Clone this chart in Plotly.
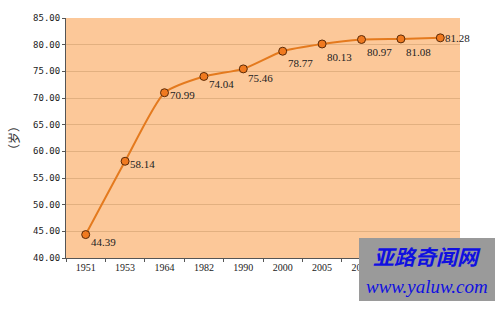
import plotly.graph_objects as go

years = ["1951", "1953", "1964", "1982", "1990", "2000", "2005", "2006", "2007", "2008"]
life = [44.39, 58.14, 70.99, 74.04, 75.46, 78.77, 80.13, 80.97, 81.08, 81.28]
y_ticks = [40, 45, 50, 55, 60, 65, 70, 75, 80, 85]

W, H = 500, 309
L, R, T, B = 66, 40, 18, 51
PW, PH = W - L - R, H - T - B

label_dy = [-7, -3, -2, -8, -9, -12, -13, -13, -13, 0]

fig = go.Figure()
fig.add_trace(go.Scatter(
    x=years, y=life, mode="lines+markers",
    line=dict(color="#E47A1E", width=2, shape="spline", smoothing=0.6),
    marker=dict(color="#F07A20", size=8, line=dict(color="#5A2A08", width=1)),
    hoverinfo="skip", showlegend=False,
))

for i, yv in enumerate(life):
    fig.add_annotation(x=i, y=yv, xref="x", yref="y", text=f"{yv:.2f}", showarrow=False,
                       xanchor="left", yanchor="middle", xshift=3, yshift=label_dy[i],
                       font=dict(family="Liberation Serif", size=11, color="#222222"))

# watermark
fig.add_shape(type="rect", xref="paper", yref="paper",
              x0=(359 - L) / PW, x1=(495 - L) / PW,
              y0=(258 - 301) / PH, y1=(258 - 238) / PH,
              fillcolor="#9A9A9A", line=dict(width=0), layer="above")
fig.add_annotation(xref="paper", yref="paper", x=(427 - L) / PW, y=(258 - 256) / PH,
                   xanchor="center", yanchor="middle",
                   text="<b><i>亚路奇闻网</i></b>", showarrow=False,
                   font=dict(family="Noto Sans CJK SC", size=21, color="#1010E0"))
fig.add_annotation(xref="paper", yref="paper", x=(427 - L) / PW, y=(258 - 286) / PH,
                   xanchor="center", yanchor="middle",
                   text="<i>www.yaluw.com</i>", showarrow=False,
                   font=dict(family="Liberation Serif", size=19, color="#1010E0"))

fig.update_layout(
    width=W, height=H,
    margin=dict(l=L, r=R, t=T, b=B, autoexpand=False),
    paper_bgcolor="white", plot_bgcolor="#FCC899",
    xaxis=dict(type="category", showgrid=False, showline=True, linecolor="#555555", linewidth=1,
               ticks="outside", ticklen=3, tickcolor="#555555", tickson="boundaries",
               tickfont=dict(family="Liberation Serif", size=10, color="#222222"),
               range=[-0.5, 9.5]),
    yaxis=dict(range=[40, 85], tickvals=y_ticks, ticktext=[f"{v:.2f}" for v in y_ticks],
               showgrid=True, gridcolor="#E2B080", gridwidth=1, zeroline=False,
               showline=True, linecolor="#555555", linewidth=1, ticks="outside", ticklen=3,
               tickcolor="#555555",
               tickfont=dict(family="DejaVu Sans Mono", size=9, color="#222222"),
               title=dict(text="（岁）", font=dict(family="Noto Sans CJK SC", size=12, color="#333333"),
                          standoff=10)),
)

fig.write_html("out.html")
